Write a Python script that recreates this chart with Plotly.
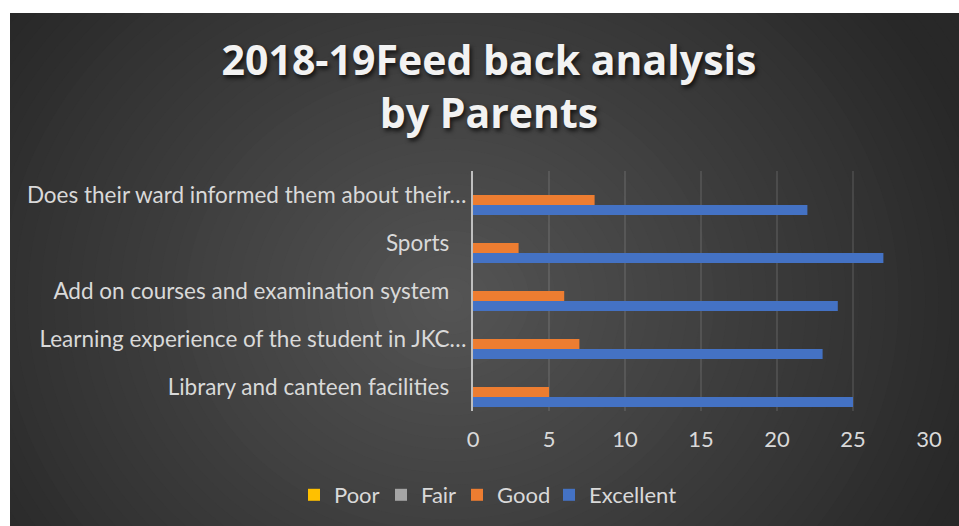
import plotly.graph_objects as go

categories = [
    "Library and canteen facilities",
    "Learning experience of the student in JKC…",
    "Add on courses and examination system",
    "Sports",
    "Does their ward informed them about their…",
]
tick_labels = [
    "Library and canteen facilities\u00a0\u00a0\u00a0",
    "Learning experience of the student in JKC…",
    "Add on courses and examination system\u00a0\u00a0\u00a0",
    "Sports\u00a0\u00a0\u00a0",
    "Does their ward informed them about their…",
]
poor = [0, 0, 0, 0, 0]
fair = [0, 0, 0, 0, 0]
good = [5, 7, 6, 3, 8]
excellent = [25, 23, 24, 27, 22]

W, H = 959, 526
L, T = 473, 171
PW, PH = 456, 240
R, B = W - L - PW, H - T - PH

def px2x(px):
    return (px - L) / PW

def py2y(py):
    return (H - B - py) / PH

fig = go.Figure()
# first trace sits at the bottom of each group
series = [
    ("Excellent", excellent, "#4472c4", "legend4", 568),
    ("Good", good, "#ed7d31", "legend3", 476),
    ("Fair", fair, "#a5a5a5", "legend2", 400),
    ("Poor", poor, "#ffc000", "legend", 313),
]
for name, vals, col, leg, _ in series:
    fig.add_trace(go.Bar(y=categories, x=vals, name=name, orientation="h",
                         legend=leg,
                         marker=dict(color=col, line=dict(width=0))))

# radial gradient background built from concentric ellipses
shapes = []
shapes.append(dict(type="rect", xref="paper", yref="paper", layer="below",
                   x0=px2x(10), x1=px2x(W + 20), y0=py2y(H + 20), y1=py2y(13),
                   fillcolor="#282828", line=dict(width=0)))
cx, cy, ax, ay = 450, 300, 480, 420
n = 48
for i in range(n + 1):
    r = 1.32 * (1 - i / n)
    c = int(round(max(85 - 39 * r, 40)))
    shapes.append(dict(type="circle", xref="paper", yref="paper", layer="below",
                       x0=px2x(cx - ax * r), x1=px2x(cx + ax * r),
                       y0=py2y(cy + ay * r), y1=py2y(cy - ay * r),
                       fillcolor=f"rgb({c},{c},{c})", line=dict(width=0)))
# white margins on top and left
shapes.append(dict(type="rect", xref="paper", yref="paper", layer="below",
                   x0=px2x(-400), x1=px2x(10), y0=py2y(H + 400), y1=py2y(-400),
                   fillcolor="white", line=dict(width=0)))
shapes.append(dict(type="rect", xref="paper", yref="paper", layer="below",
                   x0=px2x(-400), x1=px2x(W + 400), y0=py2y(13), y1=py2y(-400),
                   fillcolor="white", line=dict(width=0)))

legend_common = dict(orientation="h", xref="container", yref="container",
                     xanchor="left", yanchor="middle",
                     y=1 - 495 / H,
                     font=dict(family="Lato", size=22, color="#d9d9d9"),
                     bgcolor="rgba(0,0,0,0)", itemclick=False,
                     itemdoubleclick=False)
D = 19
legends = {}
for name, vals, col, leg, mx in series:
    legends[leg] = dict(legend_common, x=(mx - D) / W)

fig.update_layout(
    width=W, height=H,
    margin=dict(l=L, r=R, t=T, b=B, autoexpand=False),
    paper_bgcolor="white",
    plot_bgcolor="rgba(0,0,0,0)",
    shapes=shapes,
    barmode="group",
    bargap=0.17,
    bargroupgap=0,
    font=dict(family="Lato", color="#d9d9d9", size=22),
    title=dict(
        text="2018-19Feed back analysis<br>by Parents",
        x=489 / W, xref="container", xanchor="center",
        y=1 - 75 / H, yref="container", yanchor="top",
        font=dict(family="Open Sans", size=41, color="#f2f2f2", weight="bold",
                  shadow="2px 3px 4px rgba(0,0,0,0.7)"),
    ),
    xaxis=dict(range=[0, 30], dtick=5, showgrid=True,
               gridcolor="rgba(255,255,255,0.10)", gridwidth=2,
               zeroline=False, showline=False, ticks="",
               ticklabelstandoff=13,
               tickfont=dict(size=22, color="#d9d9d9"), fixedrange=True),
    yaxis=dict(tickmode="array", tickvals=categories, ticktext=tick_labels,
               showline=True, linecolor="#bfbfbf", linewidth=2,
               ticks="", ticklabelstandoff=0, showgrid=False,
               tickfont=dict(size=22.5, color="#d9d9d9"), fixedrange=True),
    showlegend=True,
    **legends,
)

fig.write_html(
    "out.html",
    config={"displayModeBar": False},
    post_script="document.documentElement.style.overflow='hidden';"
                "document.body.style.margin='0';"
                "document.body.style.overflow='hidden';",
)
